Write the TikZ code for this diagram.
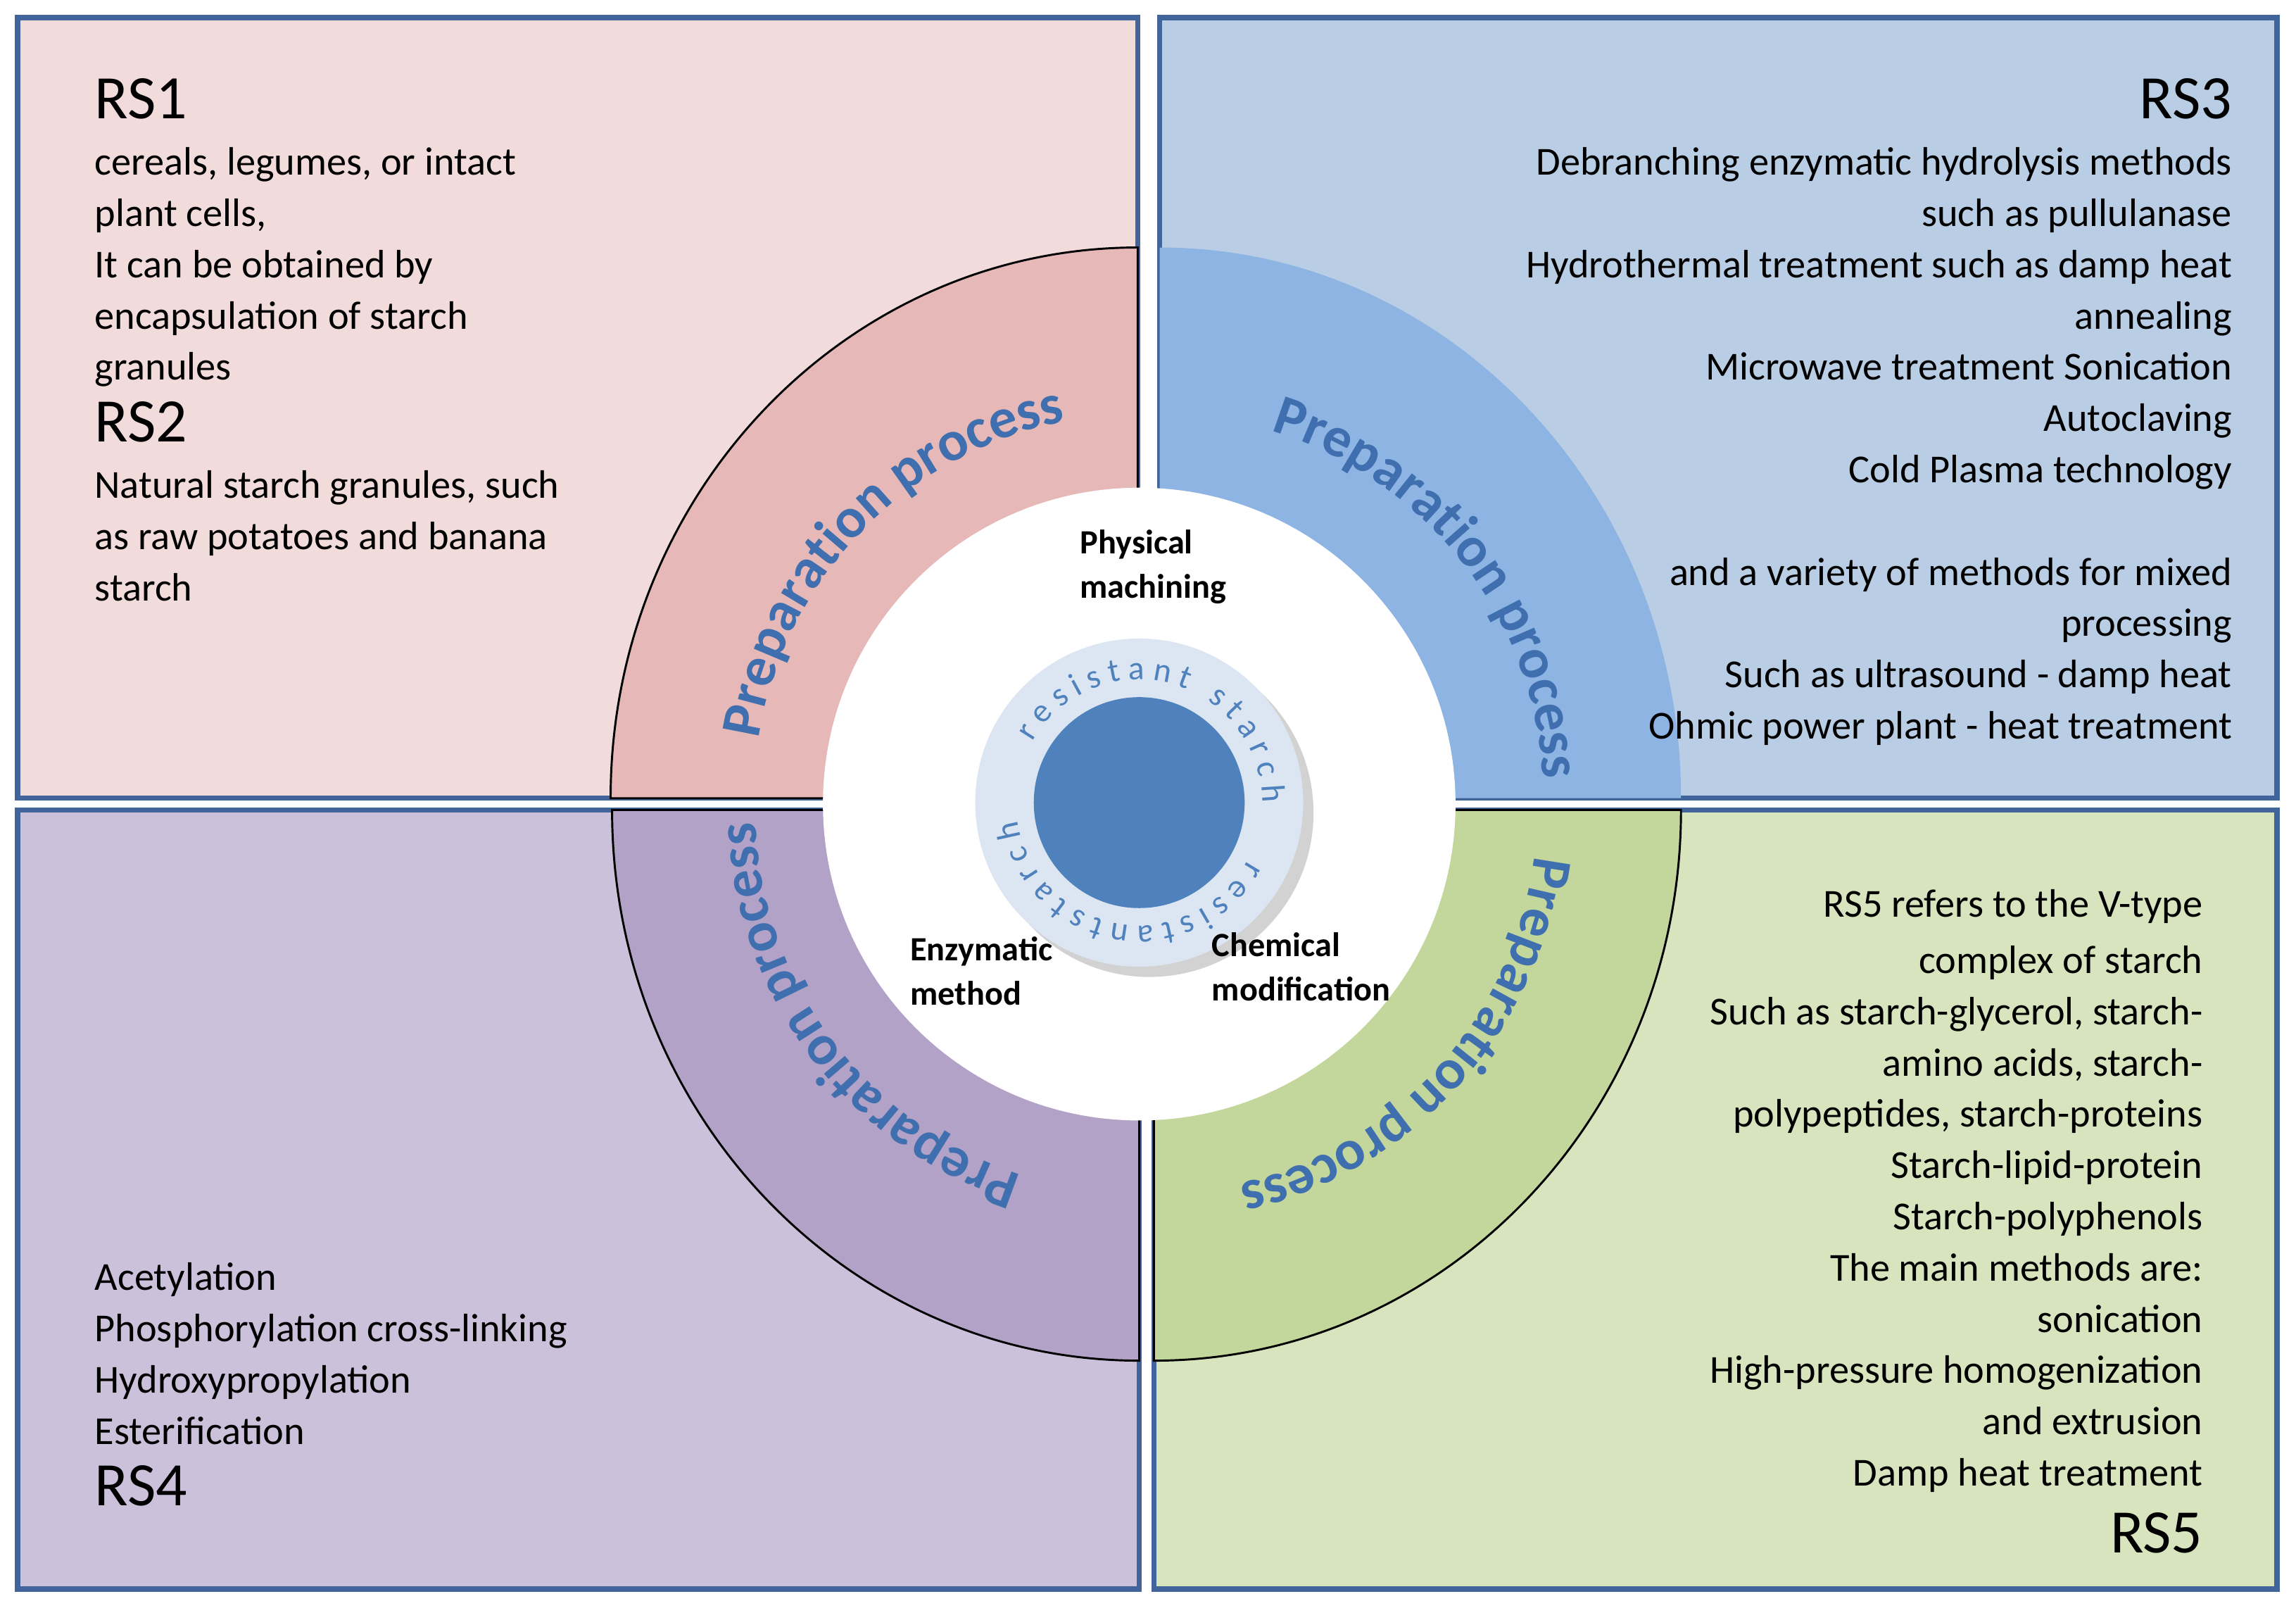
\documentclass[tikz,border=0pt]{standalone}
\usepackage{fontspec}
\setmainfont{Carlito}
\usetikzlibrary{decorations.text,shadows}
\definecolor{rsframe}{HTML}{41659A}
\definecolor{pinkbg}{HTML}{F2DCDB}
\definecolor{bluebg}{HTML}{B9CDE5}
\definecolor{lilacbg}{HTML}{CCC1DA}
\definecolor{greenbg}{HTML}{D7E4BD}
\definecolor{pinkarc}{HTML}{E6B9B8}
\definecolor{bluearc}{HTML}{8EB4E3}
\definecolor{lilacarc}{HTML}{B3A2C7}
\definecolor{greenarc}{HTML}{C3D69B}
\definecolor{ringblue}{HTML}{DCE6F2}
\definecolor{coreblue}{HTML}{4F81BD}
\definecolor{prepblue}{HTML}{3F6FAE}
\newcommand{\bodyfont}{\fontsize{7.7}{9.95}\selectfont}
\newcommand{\rsfont}{\fontsize{12}{12}\selectfont}
\newcommand{\prepfont}{\fontsize{11}{12}\selectfont\bfseries}
\newcommand{\ringfont}{\fontsize{6.5}{7}\selectfont}
\tikzset{
  panel/.style={draw=rsframe, line width=1pt},
  sector/.style={draw=black, line width=0.4pt},
  bodytext/.style={inner sep=0pt, font=\bodyfont},
  methodtext/.style={inner sep=0pt, align=left, font=\fontsize{6.6}{8.6}\selectfont\bfseries},
  prep/.style={decorate, decoration={text along path, text align=center,
      text color=prepblue, text={|\prepfont|Preparation process}}},
}
\begin{document}
\begin{tikzpicture}[x=0.01cm,y=0.01cm]
\useasboundingbox (0,0) rectangle (1568,1101);

% panels
\draw[panel, fill=pinkbg] (12,556) rectangle (777,1089);
\draw[panel, fill=bluebg] (792,556) rectangle (1555,1089);
\draw[panel, fill=lilacbg] (12,16) rectangle (778,548);
\draw[panel, fill=greenbg] (788,16) rectangle (1555,548);

% sectors
\draw[sector, fill=pinkarc] (777,556) -- ++(0,376) arc[start angle=90, end angle=180, x radius=360, y radius=376] -- cycle;
\fill[bluearc] (792,556) -- ++(356,0) arc[start angle=0, end angle=90, x radius=356, y radius=376] -- cycle;
\draw[sector, fill=lilacarc] (778,548) -- ++(-360,0) arc[start angle=180, end angle=270, x radius=360, y radius=376] -- cycle;
\draw[sector, fill=greenarc] (788,548) -- ++(0,-376) arc[start angle=270, end angle=360, x radius=360, y radius=376] -- cycle;

% curved labels
\path[prep] (777,556) ++(186:262) arc[start angle=186, end angle=86, radius=262];
\path[prep] (792,556) ++(88:262) arc[start angle=88, end angle=-12, radius=262];
\path[prep] (788,548) ++(8:262) arc[start angle=8, end angle=-92, radius=262];
\path[prep] (778,548) ++(-93:262) arc[start angle=-93, end angle=-193, radius=262];

% centre
\fill[white] (778,552) circle[radius=216];
\fill[ringblue, drop shadow={shadow xshift=2pt, shadow yshift=-2pt, opacity=.35}] (778,553) circle[radius=112];
\fill[coreblue] (778,553) circle[radius=72];
\path[decorate, decoration={text along path, text align=center, text color=coreblue,
    text={|\ringfont|r e s i s t a n t \ \ s t a r c h}}]
  (778,553) ++(152:84) arc[start angle=152, end angle=-2, radius=84];
\path[decorate, decoration={text along path, text align=center, text color=coreblue,
    text={|\ringfont|r e s i s t a n t s t a r c h}}]
  (778,553) ++(-18:84) arc[start angle=-18, end angle=-182, radius=84];

\node[methodtext, anchor=north west] (physical) at (737,740) {Physical\\machining};
\node[methodtext, anchor=north west] (enzymatic) at (621,462) {Enzymatic\\method};
\node[methodtext, anchor=north west] (chemical) at (827,465) {Chemical\\modification};

% quadrant texts
\node[bodytext, anchor=north west, align=left] (rsa) at (64,1048) {{\rsfont RS1}\\[1pt]
cereals, legumes, or intact\\plant cells,\\It can be obtained by\\encapsulation of starch\\granules\\[2pt]
{\rsfont RS2}\\[1pt]Natural starch granules, such\\as raw potatoes and banana\\starch};
\node[bodytext, anchor=north east, align=right] (rsc) at (1525,1048) {{\rsfont RS3}\\[1pt]
Debranching enzymatic hydrolysis methods\\such as pullulanase\\Hydrothermal treatment such as damp heat\\annealing\\
Microwave treatment Sonication\\Autoclaving\\Cold Plasma technology\\[0.35cm]
and a variety of methods for mixed\\processing\\Such as ultrasound - damp heat\\Ohmic power plant - heat treatment};
\node[bodytext, anchor=south west, align=left] (rsd) at (64,72) {Acetylation\\Phosphorylation cross-linking\\
Hydroxypropylation\\Esterification\\[2pt]{\rsfont RS4}};
\node[bodytext, anchor=south east, align=right] (rse) at (1505,40) {RS5 refers to the V-type\\[1pt]complex of starch\\
Such as starch-glycerol, starch-\\amino acids, starch-\\polypeptides, starch-proteins\\Starch-lipid-protein\\
Starch-polyphenols\\The main methods are:\\sonication\\High-pressure homogenization\\and extrusion\\
Damp heat treatment\\[3pt]{\rsfont RS5}};
\end{tikzpicture}
\end{document}
